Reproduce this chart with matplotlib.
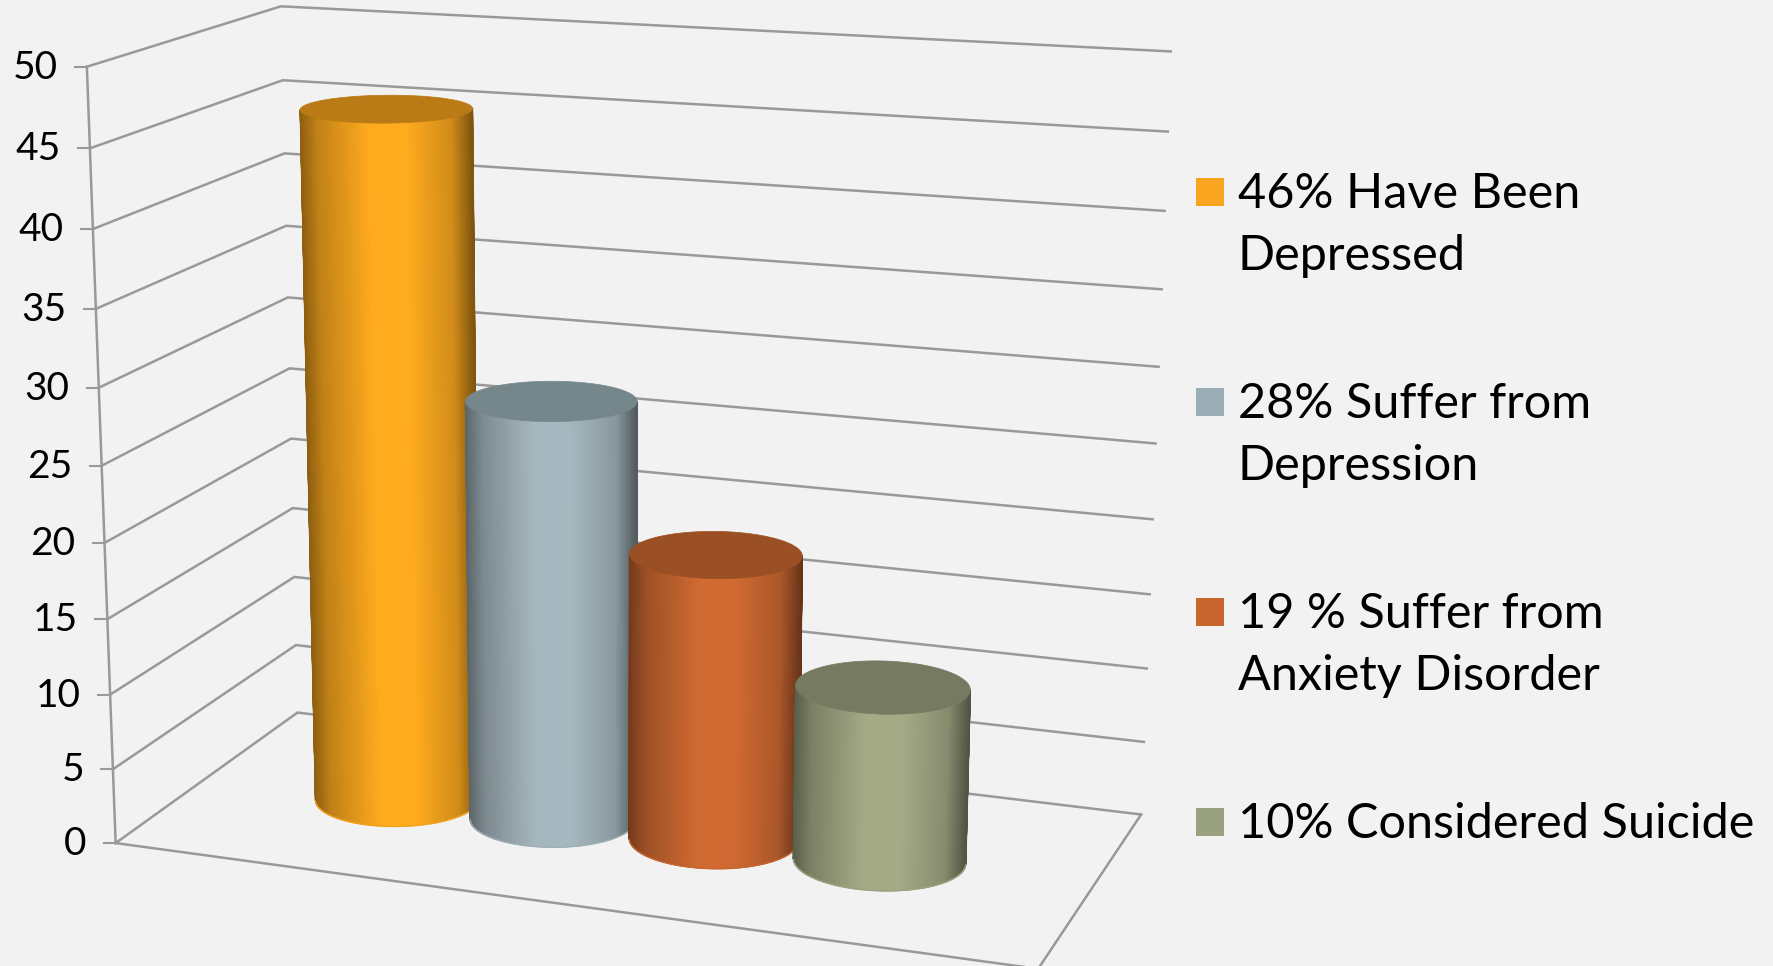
import numpy as np
import matplotlib
matplotlib.use("Agg")
import matplotlib.pyplot as plt
from matplotlib.colors import LinearSegmentedColormap, to_rgb

plt.rcParams['font.family'] = ['Lato', 'DejaVu Sans']

# chart data
labels = ["46% Have Been\nDepressed", "28% Suffer from\nDepression",
          "19 % Suffer from\nAnxiety Disorder", "10% Considered Suicide"]
values = [46, 28, 19, 11.5]  # last bar stands a bit above its 10% label in the picture
ticks = [0, 5, 10, 15, 20, 25, 30, 35, 40, 45, 50]

side_colors = ["#FFAB1E", "#A6B8BF", "#D06A32", "#A4AA86"]
cap_colors = ["#BA7A15", "#76878C", "#9B4F24", "#757A60"]
swatch_colors = ["#F9A51F", "#9BAEB5", "#C96630", "#9AA17E"]

GRID = "#999999"
BG = "#F2F2F2"

# camera: the box corners (width, depth, value) as seen in the picture, in pixels
corners_world = [(0, 0, 0), (0, 0, 50), (0, 1, 0), (0, 1, 50),
                 (1, 1, 0), (1, 1, 50), (1, 0, 0)]
corners_px = [(116.3, 842), (87.3, 65.7), (297, 714), (280.5, 6.7),
              (1142, 812), (1171, 52), (1037, 971)]

# brightness across a cylinder, darkest on the right
shade_pos = [0, 0.1, 0.4, 0.62, 0.88, 1]
shade_amt = [0.56, 0.76, 1, 1, 0.82, 0.5]


def fit_camera(world, px):
    rows = []
    for (x, y, z), (u, v) in zip(world, px):
        rows.append([x, y, z, 1, 0, 0, 0, 0, -u*x, -u*y, -u*z, -u])
        rows.append([0, 0, 0, 0, x, y, z, 1, -v*x, -v*y, -v*z, -v])
    return np.linalg.svd(np.array(rows, dtype=float))[2][-1].reshape(3, 4)


CAM = fit_camera(corners_world, corners_px)


def proj(x, y, z):
    x, y, z = np.broadcast_arrays(x, y, z)
    h = CAM @ np.stack([x, y, z, np.ones_like(x, dtype=float)])
    return h[0] / h[2], h[1] / h[2]


def draw_cylinder(ax, cx, cy, rx, ry, height, side, cap, z):
    th = np.linspace(0, 2*np.pi, 721)
    ut, vt = proj(cx + rx*np.cos(th), cy + ry*np.sin(th), height)
    ub, vb = proj(cx + rx*np.cos(th), cy + ry*np.sin(th), 0)

    # only the part facing the viewer, between the two outer edges
    th_l = th[np.argmin(ub)]
    th_r = th[np.argmax(ub)]
    if th_r < np.pi:
        th_r += 2*np.pi
    front = np.linspace(th_l, th_r, 181)
    fx = cx + rx*np.cos(front)
    fy = cy + ry*np.sin(front)
    u0, v0 = proj(fx, fy, 0)
    u1, v1 = proj(fx, fy, height)

    t = (u0 - u0.min()) / (u0.max() - u0.min())
    rgb = np.array(to_rgb(side))
    cmap = LinearSegmentedColormap.from_list(
        "side", [(p, tuple(rgb*k)) for p, k in zip(shade_pos, shade_amt)], N=512)
    ax.pcolormesh(np.array([u0, u1]), np.array([v0, v1]), np.array([t, t]),
                  cmap=cmap, vmin=0, vmax=1, shading="gouraud", zorder=z)

    # clean edges, the gouraud mesh has no antialiasing
    ax.plot(u0, v0, color=rgb*0.95, lw=1, zorder=z + 0.2)
    ax.plot([u0[0], u1[0]], [v0[0], v1[0]], color=rgb*shade_amt[0], lw=1, zorder=z + 0.2)
    ax.plot([u0[-1], u1[-1]], [v0[-1], v1[-1]], color=rgb*shade_amt[-1], lw=1, zorder=z + 0.2)
    ax.fill(ut, vt, color=cap, lw=0.5, zorder=z + 0.5)


fig = plt.figure(figsize=(17.73, 9.66), dpi=100, facecolor=BG)
ax = fig.add_axes([0, 0, 1, 1])

# walls and floor
for t in ticks:
    u, v = proj([0, 0, 1], [0, 1, 1], t)
    ax.plot(u, v, color=GRID, lw=1.8, solid_joinstyle="miter", zorder=1)
    ax.plot([u[0] - 12, u[0]], [v[0], v[0]], color=GRID, lw=1.5, zorder=1)
    ax.text(u[0] - 29, v[0] + 1, str(t), ha="right", va="center", fontsize=28, color="black")
u, v = proj([0, 0], [0, 0], [0, 50])
ax.plot(u, v, color=GRID, lw=1.8, zorder=1)
u, v = proj([0, 1, 1], [0, 0, 1], 0)
ax.plot(u, v, color=GRID, lw=1.8, zorder=1)

# bars, left one first so each next bar sits over it
for i, val in enumerate(values):
    draw_cylinder(ax, 0.226 + 0.1825*i, 0.5, 0.09, 0.19, val, side_colors[i], cap_colors[i], 3 + i)

# legend
for i, label in enumerate(labels):
    y0 = 178 + 210*i
    ax.fill([1196, 1224, 1224, 1196], [y0, y0, y0 + 28, y0 + 28], color=swatch_colors[i], lw=0)
    for j, line in enumerate(label.split("\n")):
        ax.text(1238, y0 + 30 + 62*j, line, ha="left", va="baseline", fontsize=35, color="black")

ax.set_xlim(0, 1773)
ax.set_ylim(966, 0)
ax.axis("off")

fig.savefig("out.png", dpi=100, facecolor=BG)
